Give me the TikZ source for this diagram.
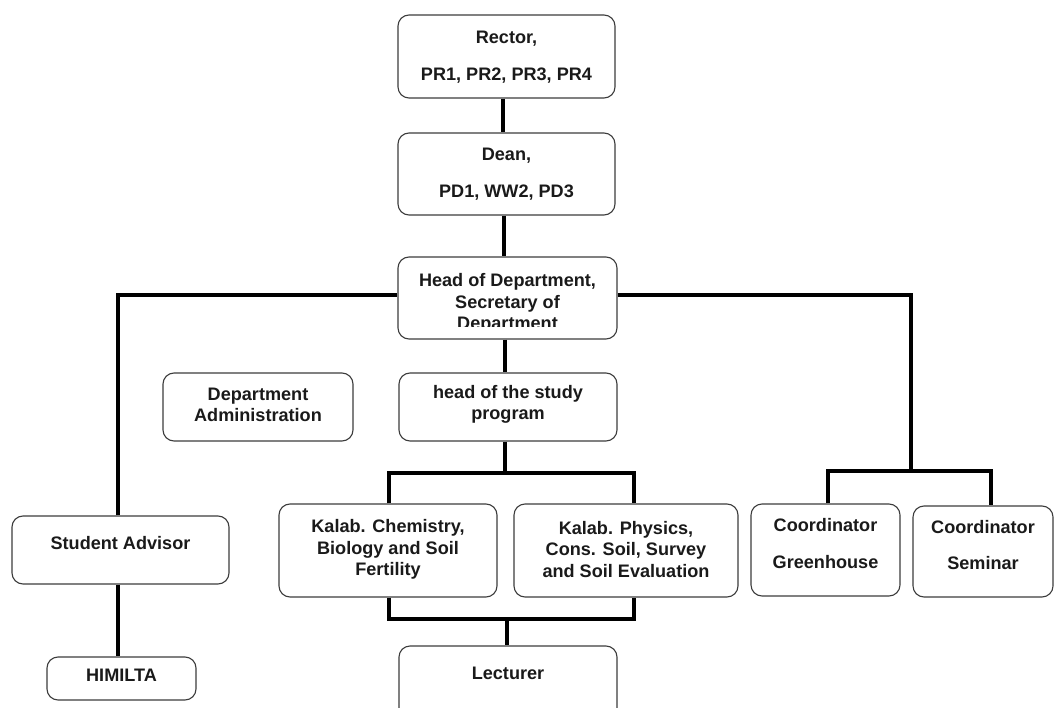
\documentclass[tikz,border=0pt]{standalone}
\usepackage{fontspec}
\setmainfont{Liberation Sans}
\definecolor{boxgray}{HTML}{3C3C3C}
\definecolor{txtcol}{HTML}{1A1A1A}
\begin{document}
\begin{tikzpicture}[x=1pt,y=-1pt,
  box/.style={draw=boxgray, line width=1.1pt, rounded corners=11pt, inner sep=0pt, fill=white},
  txt/.style={font=\bfseries\fontsize{18.1}{21.5}\selectfont, text=txtcol, align=center, inner sep=0pt},
  conn/.style={line width=3.4pt, draw=black}]
\useasboundingbox (0,0) rectangle (1054,708);
\clip (0,0) rectangle (1054,708);
% boxes
\node[box, minimum width=217pt, minimum height=83pt] (rector) at (506.5,56.5) {};
\node[box, minimum width=217pt, minimum height=82pt] (dean) at (506.5,174) {};
\node[box, minimum width=219pt, minimum height=82pt] (head) at (507.5,298) {};
\node[box, minimum width=190pt, minimum height=68pt] (admin) at (258,407) {};
\node[box, minimum width=218pt, minimum height=68pt] (study) at (508,407) {};
\node[box, minimum width=217pt, minimum height=68pt] (sa) at (120.5,550) {};
\node[box, minimum width=149pt, minimum height=43pt] (him) at (121.5,678.5) {};
\node[box, minimum width=218pt, minimum height=93pt] (chem) at (388,550.5) {};
\node[box, minimum width=224pt, minimum height=93pt] (phys) at (626,550.5) {};
\node[box, minimum width=149pt, minimum height=92pt] (green) at (825.5,550) {};
\node[box, minimum width=140pt, minimum height=91pt] (sem) at (983,551.5) {};
\node[box, minimum width=218pt, minimum height=94pt] (lec) at (508,693) {};
% coordinates for connectors
\coordinate (L) at (118,295);
\coordinate (R) at (911,295);
\coordinate (G1) at (828,471);
\coordinate (S1) at (991,471);
\coordinate (M) at (505,473);
\coordinate (B1) at (389,473);
\coordinate (B2) at (634,473);
\coordinate (C1) at (389,619);
\coordinate (C2) at (634,619);
\coordinate (N) at (507,619);
% connectors
\draw[conn] ([xshift=-3.5pt]rector.south) -- ([xshift=-3.5pt]dean.north);
\draw[conn] ([xshift=-2.5pt]dean.south) -- ([xshift=-2.5pt]dean.south |- head.north);
\draw[conn] (sa.north -| L) -- (L) -- (L -| head.west);
\draw[conn] (L -| head.east) -- (R) -- (R |- G1);
\draw[conn] (green.north -| G1) -- (G1) -- (S1) -- (sem.north -| S1);
\draw[conn] (sa.south -| L) -- (him.north -| L);
\draw[conn] (head.south -| M) -- (study.north -| M);
\draw[conn] (study.south -| M) -- (M);
\draw[conn] (chem.north -| B1) -- (B1) -- (B2) -- (phys.north -| B2);
\draw[conn] (chem.south -| C1) -- (C1) -- (C2) -- (phys.south -| C2);
\draw[conn] (N) -- (lec.north -| N);
% texts
\node[txt] (rectorT) at (506.5,57) {Rector,\\[15.5pt]PR1, PR2, PR3, PR4};
\node[txt] (deanT) at (506.5,174) {Dean,\\[15.5pt]PD1, WW2, PD3};
\begin{scope}
\clip (399,258) rectangle (616,327);
\node[txt] (headT) at (507.5,303.5) {Head of Department,\\Secretary of\\Department};
\end{scope}
\node[txt] (adminT) at (258,405) {Department\\Administration};
\node[txt] (studyT) at (508,404.5) {head of the study\\program};
\node[txt] (saT) at (120.5,543.5) {Student Advisor};
\node[txt] (himT) at (121.5,675.5) {HIMILTA};
\node[txt] (chemT) at (388,549.5) {Kalab. Chemistry,\\Biology and Soil\\Fertility};
\node[txt] (physT) at (626,549.5) {Kalab. Physics,\\Cons. Soil, Survey\\and Soil Evaluation};
\node[txt] (greenT) at (825.5,544) {Coordinator\\[15.5pt]Greenhouse};
\node[txt] (semT) at (983,545.5) {Coordinator\\[14.5pt]Seminar};
\node[txt] (lecT) at (508,673.5) {Lecturer};
\end{tikzpicture}
\end{document}
